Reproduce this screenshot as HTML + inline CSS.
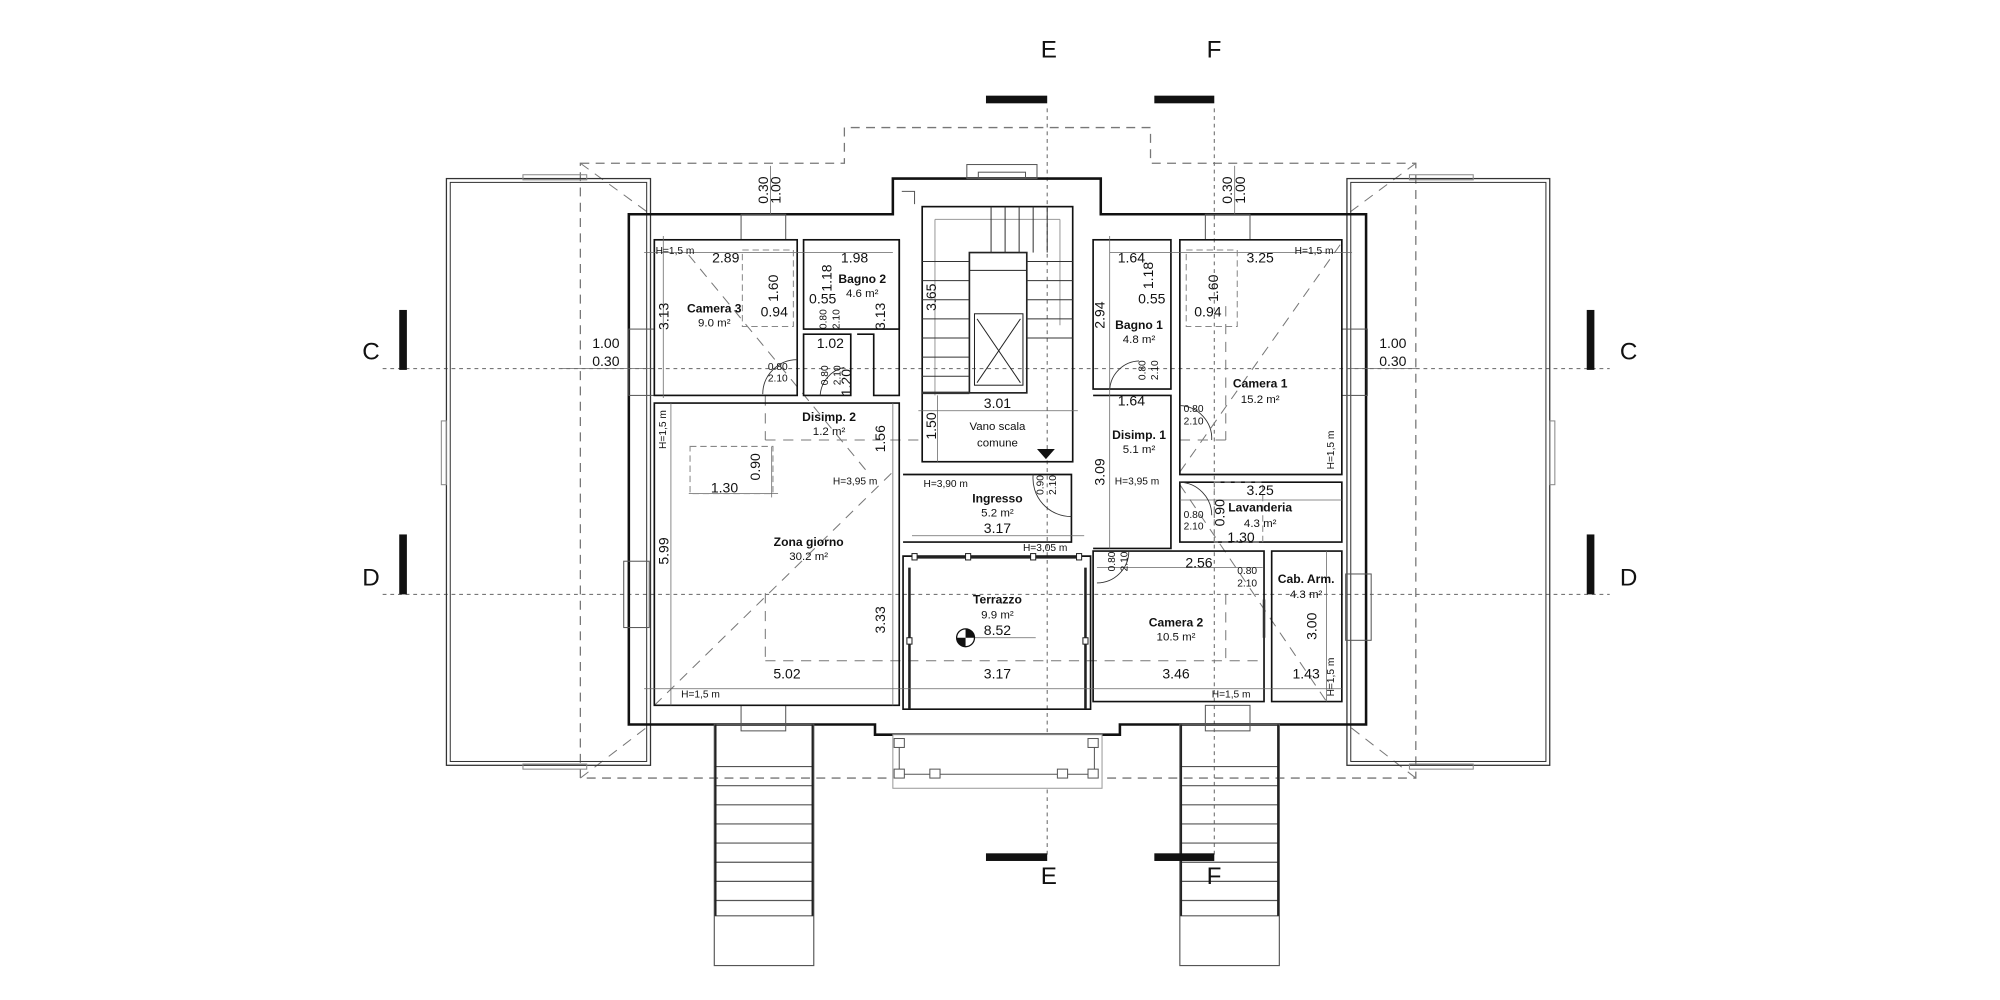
<!DOCTYPE html>
<html><head><meta charset="utf-8"><style>
html,body{margin:0;padding:0;background:#fff}
svg{display:block}
text{font-family:"Liberation Sans",sans-serif;fill:#111}
.n{font-size:11px}
.s{font-size:8px}
.b{font-size:9.5px;font-weight:bold}
.a{font-size:9px}
.big{font-size:19px}
</style></head><body>
<svg width="2000" height="1000" viewBox="0 0 1568 784" xmlns="http://www.w3.org/2000/svg">
<rect width="1568" height="784" fill="#fff"/>
<!-- section dotted lines -->
<g stroke="#666" stroke-width="0.8" stroke-dasharray="3,3" fill="none">
<line x1="300" y1="289" x2="1262" y2="289"/>
<line x1="300" y1="466" x2="1262" y2="466"/>
<line x1="821" y1="85" x2="821" y2="672"/>
<line x1="952" y1="85" x2="952" y2="672"/>
</g>
<!-- roof dashed outline -->
<g stroke="#777" stroke-width="1" stroke-dasharray="7,5" fill="none">
<path d="M455,128 H662 V100 H902 V128 H1110 V610 H455 Z"/>
</g>
<!-- roof diagonals -->
<g stroke="#777" stroke-width="0.8" stroke-dasharray="8,6" fill="none">
<line x1="455" y1="128" x2="510" y2="168"/>
<line x1="1110" y1="128" x2="1056" y2="168"/>
<line x1="455" y1="610" x2="510" y2="568"/>
<line x1="1110" y1="610" x2="1056" y2="568"/>
<line x1="513" y1="553" x2="700" y2="370"/>
<line x1="925" y1="370" x2="1052" y2="190"/>
<line x1="540" y1="200" x2="680" y2="370"/>
<line x1="925" y1="380" x2="1040" y2="550"/>
<line x1="600" y1="310" x2="600" y2="345"/>
<line x1="600" y1="345" x2="720" y2="345"/>
<line x1="600" y1="465" x2="600" y2="518"/>
<line x1="600" y1="518" x2="990" y2="518"/>
<line x1="961" y1="466" x2="961" y2="518"/>
<line x1="961" y1="240" x2="961" y2="345"/>
<line x1="925" y1="345" x2="961" y2="345"/>
</g>
<!-- wings -->
<g fill="none" stroke="#333">
<rect x="350" y="140" width="160" height="460" stroke-width="1"/>
<rect x="353" y="143" width="154" height="454" stroke-width="0.8"/>
<rect x="1056" y="140" width="159" height="460" stroke-width="1"/>
<rect x="1059" y="143" width="153" height="454" stroke-width="0.8"/>
<rect x="410" y="137" width="50" height="4" stroke="#888" stroke-width="0.8"/>
<rect x="410" y="599" width="50" height="4" stroke="#888" stroke-width="0.8"/>
<rect x="1105" y="137" width="50" height="4" stroke="#888" stroke-width="0.8"/>
<rect x="1105" y="599" width="50" height="4" stroke="#888" stroke-width="0.8"/>
<rect x="346" y="330" width="4" height="50" stroke="#888" stroke-width="0.8"/>
<rect x="1215" y="330" width="4" height="50" stroke="#888" stroke-width="0.8"/>
</g>
<!-- outer wall -->
<path d="M493,168 H700 V140 H863 V168 H1071 V568 H878 V576 H686 V568 H493 Z" fill="none" stroke="#111" stroke-width="2"/>
<g fill="none" stroke="#555" stroke-width="0.8">
<rect x="758" y="129" width="55" height="11"/><rect x="767" y="135" width="37" height="5"/>
<rect x="581" y="168" width="35" height="20"/><rect x="945" y="168" width="35" height="20"/>
<rect x="493" y="258" width="20" height="52"/><rect x="1052" y="258" width="20" height="52"/>
<rect x="489" y="440" width="20" height="52"/><rect x="1055" y="450" width="20" height="52"/>
<rect x="581" y="553" width="35" height="20"/><rect x="945" y="553" width="35" height="20"/>
<path d="M707,150 h10 v10"/>
</g>
<!-- interior walls -->
<g fill="none" stroke="#111" stroke-width="1.3">
<rect x="513" y="188" width="112" height="122"/>
<rect x="630" y="188" width="75" height="70"/>
<path d="M630,262 V310 H667 V262 Z"/>
<path d="M672,262 H685 V310 H705 V188"/>
<path d="M513,316 H705 V553 H513 Z"/>
<rect x="723" y="162" width="118" height="200"/>
<path d="M708,372 H840 V425 H708"/>
<path d="M708,436 H855 V556 H708 Z"/>
<rect x="857" y="188" width="61" height="117"/>
<path d="M857,310 H918 V430 H857"/>
<path d="M925,188 H1052 V372 H925 Z"/>
<path d="M925,378 H1052 V425 H925 Z"/>
<path d="M857,432 H991 V550 H857 Z"/>
<path d="M997,432 H1052 V550 H997 Z"/>
</g>
<!-- stair internals -->
<g fill="none" stroke="#222" stroke-width="0.8">
<rect x="760" y="198" width="45" height="110" stroke-width="1.3"/>
<rect x="764" y="246" width="38" height="56"/>
<line x1="766" y1="250" x2="800" y2="300"/><line x1="800" y1="250" x2="766" y2="300"/>
<line x1="760" y1="212" x2="805" y2="212"/>
<line x1="733" y1="172" x2="831" y2="172" stroke="#999"/>
<line x1="733" y1="172" x2="733" y2="310" stroke="#999"/>
<line x1="831" y1="172" x2="831" y2="255" stroke="#999"/>
<g stroke="#333">
<line x1="723" y1="205" x2="760" y2="205"/><line x1="723" y1="220" x2="760" y2="220"/><line x1="723" y1="235" x2="760" y2="235"/><line x1="723" y1="250" x2="760" y2="250"/><line x1="723" y1="265" x2="760" y2="265"/><line x1="723" y1="280" x2="760" y2="280"/><line x1="723" y1="295" x2="760" y2="295"/>
<line x1="805" y1="205" x2="841" y2="205"/><line x1="805" y1="220" x2="841" y2="220"/><line x1="805" y1="235" x2="841" y2="235"/><line x1="805" y1="250" x2="841" y2="250"/><line x1="805" y1="265" x2="841" y2="265"/>
<line x1="777" y1="162" x2="777" y2="198"/><line x1="788" y1="162" x2="788" y2="198"/><line x1="799" y1="162" x2="799" y2="198"/><line x1="810" y1="162" x2="810" y2="198"/><line x1="821" y1="162" x2="821" y2="198"/>
<line x1="723" y1="308" x2="760" y2="308" stroke-width="2"/>
</g>
</g>
<polygon points="813,352 827,352 820,360" fill="#111"/>
<!-- terrazzo glazing -->
<g fill="#fff" stroke="#222" stroke-width="0.8">
<line x1="716" y1="437" x2="846" y2="437" stroke-width="2"/>
<line x1="713" y1="445" x2="713" y2="556" stroke-width="2"/>
<line x1="851" y1="445" x2="851" y2="556" stroke-width="2"/>
<rect x="715" y="434" width="4" height="5"/><rect x="757" y="434" width="4" height="5"/><rect x="808" y="434" width="4" height="5"/><rect x="844" y="434" width="4" height="5"/>
<rect x="711" y="500" width="4" height="5"/><rect x="849" y="500" width="4" height="5"/>
</g>
<!-- balcony below -->
<g fill="#fff" stroke="#555" stroke-width="0.8">
<rect x="700" y="576" width="164" height="42" stroke="#999"/>
<path d="M705,583 V607 H858 V583" fill="none"/>
<rect x="701" y="579" width="8" height="7"/><rect x="853" y="579" width="8" height="7"/>
<rect x="701" y="603" width="8" height="7"/><rect x="729" y="603" width="8" height="7"/><rect x="829" y="603" width="8" height="7"/><rect x="853" y="603" width="8" height="7"/>
</g>
<!-- external stairs -->
<g fill="none" stroke="#555" stroke-width="0.9">
<rect x="560" y="568" width="78" height="189"/>
<rect x="925" y="568" width="78" height="189"/>
<path d="M560,601 H638 M560,616 H638 M560,631 H638 M560,646 H638 M560,661 H638 M560,676 H638 M560,691 H638 M560,706 H638 M560,718 H638"/>
<path d="M925,601 H1003 M925,616 H1003 M925,631 H1003 M925,646 H1003 M925,661 H1003 M925,676 H1003 M925,691 H1003 M925,706 H1003 M925,718 H1003"/>
<line x1="561" y1="568" x2="561" y2="718" stroke="#222" stroke-width="1.5"/><line x1="637" y1="568" x2="637" y2="718" stroke="#222" stroke-width="1.5"/>
<line x1="926" y1="568" x2="926" y2="718" stroke="#222" stroke-width="1.5"/><line x1="1002" y1="568" x2="1002" y2="718" stroke="#222" stroke-width="1.5"/>
</g>
<!-- dimension lines -->
<g stroke="#666" stroke-width="0.6" fill="none">
<line x1="505" y1="198" x2="700" y2="198"/><line x1="520" y1="185" x2="520" y2="312"/>
<line x1="505" y1="540" x2="860" y2="540"/><line x1="526" y1="316" x2="526" y2="553"/>
<line x1="700" y1="316" x2="700" y2="553"/><line x1="735" y1="310" x2="735" y2="362"/>
<line x1="720" y1="322" x2="845" y2="322"/><line x1="715" y1="420" x2="850" y2="420"/>
<line x1="870" y1="198" x2="1060" y2="198"/><line x1="870" y1="185" x2="870" y2="430"/>
<line x1="925" y1="392" x2="1052" y2="392"/><line x1="860" y1="445" x2="990" y2="445"/>
<line x1="860" y1="540" x2="1052" y2="540"/><line x1="1040" y1="432" x2="1040" y2="550"/>
<line x1="540" y1="387" x2="610" y2="387"/><line x1="605" y1="350" x2="605" y2="390"/>
<line x1="750" y1="500" x2="812" y2="500"/>
<line x1="440" y1="289" x2="510" y2="289"/><line x1="1056" y1="289" x2="1110" y2="289"/>
<line x1="604" y1="130" x2="604" y2="168"/><line x1="968" y1="130" x2="968" y2="168"/>
</g>
<g stroke="#888" stroke-width="0.8" fill="none" stroke-dasharray="5,3">
<rect x="541" y="350" width="65" height="37"/>
<rect x="582" y="196" width="40" height="60"/>
<rect x="930" y="196" width="40" height="60"/>
<rect x="952" y="378" width="38" height="47"/>
</g>
<!-- door swings -->
<g stroke="#333" stroke-width="0.7" fill="none">
<path d="M625,282 A27,27 0 0 0 598,309"/><path d="M662,288 A24,24 0 0 0 643,310"/>
<path d="M893,283 A24,24 0 0 0 870,305"/><path d="M925,318 A26,26 0 0 1 950,345"/>
<path d="M925,378 A26,26 0 0 1 950,404"/><path d="M860,457 A25,25 0 0 0 885,432"/>
<path d="M810,372 A30,30 0 0 0 840,405"/>
<line x1="991" y1="470" x2="991" y2="500" stroke-width="2"/>
</g>
<!-- marker -->
<circle cx="757" cy="500" r="7" fill="#fff" stroke="#111"/>
<path d="M757,493 A7,7 0 0 1 764,500 H757Z" fill="#111"/><path d="M757,507 A7,7 0 0 1 750,500 H757Z" fill="#111"/>
<!-- section bars -->
<g fill="#111">
<rect x="773" y="75" width="48" height="6"/><rect x="905" y="75" width="47" height="6"/>
<rect x="773" y="669" width="48" height="6"/><rect x="905" y="669" width="47" height="6"/>
<rect x="313" y="243" width="6" height="47"/><rect x="1244" y="243" width="6" height="47"/>
<rect x="313" y="419" width="6" height="47"/><rect x="1244" y="419" width="6" height="47"/>
</g>
<text class="big" x="816" y="45">E</text><text class="big" x="946" y="45">F</text>
<text class="big" x="816" y="693">E</text><text class="big" x="946" y="693">F</text>
<text class="big" x="284" y="282">C</text><text class="big" x="1270" y="282">C</text>
<text class="big" x="284" y="459">D</text><text class="big" x="1270" y="459">D</text>
<!-- room labels -->
<g text-anchor="middle">
<text class="b" x="560" y="245">Camera 3</text><text class="a" x="560" y="256">9.0 m²</text>
<text class="b" x="676" y="222">Bagno 2</text><text class="a" x="676" y="233">4.6 m²</text>
<text class="b" x="650" y="330">Disimp. 2</text><text class="a" x="650" y="341">1.2 m²</text>
<text class="b" x="634" y="428">Zona giorno</text><text class="a" x="634" y="439">30.2 m²</text>
<text class="a" x="782" y="337">Vano scala</text><text class="a" x="782" y="350">comune</text>
<text class="b" x="782" y="394">Ingresso</text><text class="a" x="782" y="405">5.2 m²</text>
<text class="b" x="782" y="473">Terrazzo</text><text class="a" x="782" y="485">9.9 m²</text>
<text class="b" x="893" y="258">Bagno 1</text><text class="a" x="893" y="269">4.8 m²</text>
<text class="b" x="988" y="304">Camera 1</text><text class="a" x="988" y="316">15.2 m²</text>
<text class="b" x="893" y="344">Disimp. 1</text><text class="a" x="893" y="355">5.1 m²</text>
<text class="b" x="988" y="401">Lavanderia</text><text class="a" x="988" y="413">4.3 m²</text>
<text class="b" x="922" y="491">Camera 2</text><text class="a" x="922" y="502">10.5 m²</text>
<text class="b" x="1024" y="457">Cab. Arm.</text><text class="a" x="1024" y="469">4.3 m²</text>
<!-- dims -->
<text class="n" x="569" y="206">2.89</text><text class="n" x="670" y="206">1.98</text>
<text class="n" x="607" y="248">0.94</text><text class="n" x="645" y="238">0.55</text>
<text class="n" x="651" y="273">1.02</text>
<text class="n" x="568" y="386">1.30</text><text class="n" x="617" y="532">5.02</text>
<text class="n" x="782" y="320">3.01</text><text class="n" x="782" y="418">3.17</text>
<text class="n" x="782" y="498">8.52</text><text class="n" x="782" y="532">3.17</text>
<text class="n" x="887" y="206">1.64</text><text class="n" x="887" y="318">1.64</text>
<text class="n" x="903" y="238">0.55</text><text class="n" x="947" y="248">0.94</text>
<text class="n" x="988" y="206">3.25</text><text class="n" x="988" y="388">3.25</text>
<text class="n" x="973" y="425">1.30</text><text class="n" x="940" y="445">2.56</text>
<text class="n" x="922" y="532">3.46</text><text class="n" x="1024" y="532">1.43</text>
<text class="n" x="475" y="273">1.00</text><text class="n" x="475" y="287">0.30</text>
<text class="n" x="1092" y="273">1.00</text><text class="n" x="1092" y="287">0.30</text>
</g>
<g class="n">
<text transform="translate(524,248) rotate(-90)" text-anchor="middle">3.13</text>
<text transform="translate(610,226) rotate(-90)" text-anchor="middle">1.60</text>
<text transform="translate(652,218) rotate(-90)" text-anchor="middle">1.18</text>
<text transform="translate(667,300) rotate(-90)" text-anchor="middle">1.20</text>
<text transform="translate(694,248) rotate(-90)" text-anchor="middle">3.13</text>
<text transform="translate(524,432) rotate(-90)" text-anchor="middle">5.99</text>
<text transform="translate(596,366) rotate(-90)" text-anchor="middle">0.90</text>
<text transform="translate(694,344) rotate(-90)" text-anchor="middle">1.56</text>
<text transform="translate(694,486) rotate(-90)" text-anchor="middle">3.33</text>
<text transform="translate(734,233) rotate(-90)" text-anchor="middle">3.65</text>
<text transform="translate(734,334) rotate(-90)" text-anchor="middle">1.50</text>
<text transform="translate(866,247) rotate(-90)" text-anchor="middle">2.94</text>
<text transform="translate(904,216) rotate(-90)" text-anchor="middle">1.18</text>
<text transform="translate(955,226) rotate(-90)" text-anchor="middle">1.60</text>
<text transform="translate(866,370) rotate(-90)" text-anchor="middle">3.09</text>
<text transform="translate(960,402) rotate(-90)" text-anchor="middle">0.90</text>
<text transform="translate(1032,491) rotate(-90)" text-anchor="middle">3.00</text>
<text transform="translate(602,149) rotate(-90)" text-anchor="middle">0.30</text>
<text transform="translate(612,149) rotate(-90)" text-anchor="middle">1.00</text>
<text transform="translate(966,149) rotate(-90)" text-anchor="middle">0.30</text>
<text transform="translate(976,149) rotate(-90)" text-anchor="middle">1.00</text>
</g>
<g class="s">
<text x="514" y="199">H=1,5 m</text><text x="1015" y="199">H=1,5 m</text>
<text x="653" y="380">H=3,95 m</text><text x="724" y="382">H=3,90 m</text>
<text x="874" y="380">H=3,95 m</text><text x="802" y="432">H=3,05 m</text>
<text x="534" y="547">H=1,5 m</text><text x="950" y="547">H=1,5 m</text>
<text transform="translate(522,352) rotate(-90)">H=1,5 m</text>
<text transform="translate(1046,368) rotate(-90)">H=1,5 m</text>
<text transform="translate(1046,546) rotate(-90)">H=1,5 m</text>
<text x="602" y="290">0.80</text><text x="602" y="299">2.10</text>
<text x="928" y="323">0.80</text><text x="928" y="333">2.10</text>
<text x="928" y="406">0.80</text><text x="928" y="415">2.10</text>
<text x="970" y="450">0.80</text><text x="970" y="460">2.10</text>
<text transform="translate(649,302) rotate(-90)">0.80</text><text transform="translate(659,302) rotate(-90)">2.10</text>
<text transform="translate(648,258) rotate(-90)">0.80</text><text transform="translate(658,258) rotate(-90)">2.10</text>
<text transform="translate(898,298) rotate(-90)">0.80</text><text transform="translate(908,298) rotate(-90)">2.10</text>
<text transform="translate(818,388) rotate(-90)">0.90</text><text transform="translate(828,388) rotate(-90)">2.10</text>
<text transform="translate(874,448) rotate(-90)">0.80</text><text transform="translate(884,448) rotate(-90)">2.10</text>
</g>
</svg>
</body></html>
